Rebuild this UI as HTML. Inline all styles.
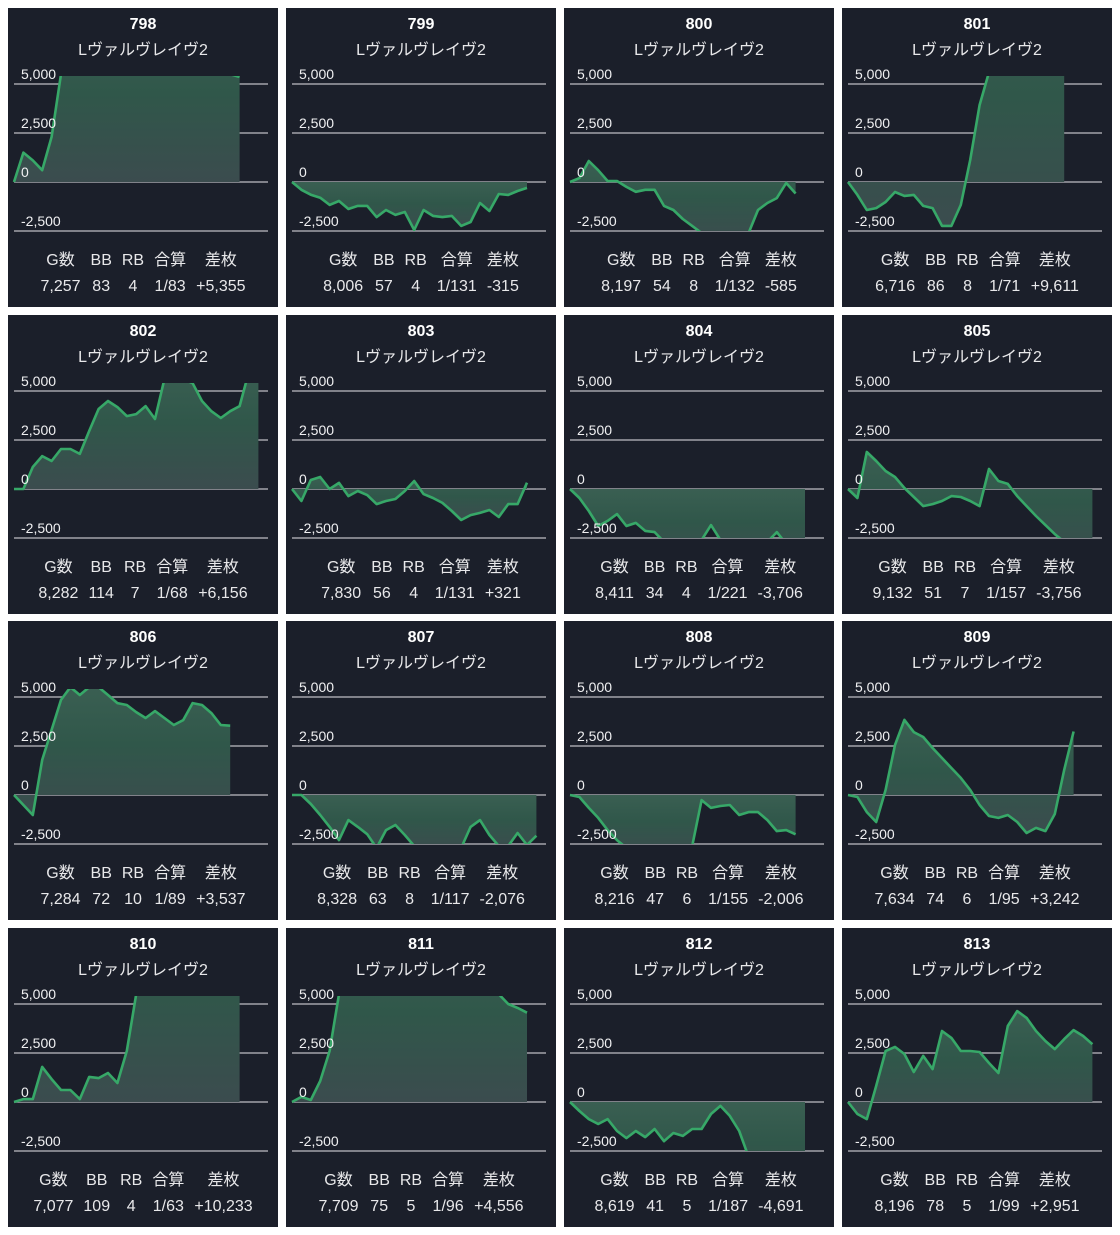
<!DOCTYPE html>
<html><head><meta charset="utf-8">
<style>
html,body{margin:0;padding:0;background:#fff;width:1120px;height:1235px;overflow:hidden}
body{position:relative;font-family:"Liberation Sans","Noto Sans CJK JP",sans-serif}
.panel{position:absolute;width:270px;height:299px;background:#1b1f2a;color:#e8e8ea}
.panel svg{position:absolute;left:0;top:0}
.ttl{position:absolute;top:8px;left:0;width:270px;text-align:center;font-weight:bold;font-size:16px;color:#fff}
.sub{position:absolute;top:28px;left:0;width:270px;text-align:center;font-size:16px;color:#e8e8ea}
.tbl{position:absolute;top:240px;left:0;width:270px;display:flex;justify-content:center}
.col{display:flex;flex-direction:column;align-items:center;padding:0 5px;font-size:16px;line-height:26px;color:#e8e8ea}
</style></head><body>
<script>
const ids=["798","799","800","801","802","803","804","805","806","807","808","809","810","811","812","813"];
const games=["7,257","8,006","8,197","6,716","8,282","7,830","8,411","9,132","7,284","8,328","8,216","7,634","7,077","7,709","8,619","8,196"];
const bbs=["83","57","54","86","114","56","34","51","72","63","47","74","109","75","41","78"];
const rbs=["4","4","8","8","7","4","4","7","10","8","6","6","4","5","5","5"];
const gousan=["1/83","1/131","1/132","1/71","1/68","1/131","1/221","1/157","1/89","1/117","1/155","1/95","1/63","1/96","1/187","1/99"];
const samai=["+5,355","-315","-585","+9,611","+6,156","+321","-3,706","-3,756","+3,537","-2,076","-2,006","+3,242","+10,233","+4,556","-4,691","+2,951"];
const s798=[0,1500,1100,600,2300,5500,6500,7000,7500,8000,8200,8000,7800,7500,7300,7000,6800,6600,6400,6200,6000,5800,5600,5500,5355];
const s799=[0,-400,-650,-800,-1170,-970,-1380,-1220,-1220,-1790,-1430,-1680,-1530,-2450,-1430,-1730,-1790,-1730,-2240,-2040,-1070,-1480,-610,-660,-460,-300];
const s800=[0,200,1070,600,50,50,-250,-500,-400,-400,-1220,-1430,-1890,-2240,-2600,-2900,-3000,-2800,-2700,-2600,-1430,-1070,-820,-50,-585];
const s801=[0,-660,-1430,-1330,-1020,-510,-710,-660,-1220,-1330,-2240,-2240,-1170,1120,3930,5600,7000,8000,8500,9000,9500,9800,9700,9611];
const s802=[0,0,1120,1680,1430,2040,2040,1790,2960,4080,4490,4180,3720,3820,4230,3570,5600,5800,5600,5400,4490,3970,3620,3970,4230,6000,6156];
const s803=[0,-610,460,610,0,310,-360,-100,-310,-770,-610,-510,-100,410,-260,-460,-710,-1120,-1580,-1330,-1220,-1070,-1430,-770,-770,321];
const s804=[0,-460,-1120,-1890,-1630,-1280,-1890,-1730,-2140,-2200,-2700,-3000,-3000,-2800,-2600,-1840,-2600,-2900,-3100,-3000,-2900,-2700,-2200,-2800,-3300,-3706];
const s805=[0,-460,1890,1430,920,610,50,-410,-870,-770,-610,-360,-410,-610,-870,1020,410,260,-360,-870,-1380,-1840,-2300,-2700,-3100,-3500,-3756];
const s806=[0,-510,-1020,1790,3320,4850,5500,5100,5500,5500,5100,4690,4590,4230,3930,4280,3930,3570,3820,4690,4590,4180,3570,3537];
const s807=[0,0,-460,-1020,-1630,-2300,-1280,-1630,-2000,-2700,-1790,-1530,-2040,-2600,-2800,-2800,-2700,-2600,-2700,-1630,-1280,-2040,-2600,-2600,-1940,-2550,-2076];
const s808=[0,-100,-660,-1170,-1790,-2300,-2700,-2900,-3000,-3000,-2900,-2800,-2700,-2600,-260,-660,-560,-510,-1020,-870,-870,-1280,-1840,-1790,-2006];
const s809=[0,-100,-870,-1380,260,2550,3830,3210,2960,2400,1890,1380,870,260,-510,-1070,-1170,-1020,-1380,-1940,-1680,-1840,-970,1280,3242];
const s810=[0,150,150,1790,1170,610,610,150,1280,1220,1480,970,2600,5500,7000,8000,8500,9000,9500,9800,10000,10300,10500,10400,10233];
const s811=[0,260,100,1070,2600,5500,6500,7000,7500,8000,8200,8300,8200,8000,7800,7600,7500,7300,7000,6800,6500,6000,5500,5000,4800,4556];
const s812=[0,-460,-870,-1120,-870,-1480,-1840,-1480,-1790,-1380,-2000,-1580,-1730,-1380,-1380,-610,-200,-710,-1480,-2800,-3400,-3700,-3900,-4300,-4500,-4691];
const s813=[0,-610,-870,820,2600,2810,2450,1530,2350,1680,3620,3270,2600,2600,2550,1990,1480,3880,4640,4290,3620,3110,2700,3210,3670,3370,2951];
const seriesList=[s798,s799,s800,s801,s802,s803,s804,s805,s806,s807,s808,s809,s810,s811,s812,s813];
const yTicks=[5000,2500,0,-2500];
const tickLabels=["5,000","2,500","0","-2,500"];

const NS="http://www.w3.org/2000/svg";
const X0=6, STEP=9.4, ZERO=174, PXPER=49/2500, CLIPTOP=68, CLIPBOT=223;
function xs(i){return X0+i*STEP;}
function ys(v){return ZERO-v*PXPER;}
const colX=[8,286,564,842], rowY=[8,315,621,928];

ids.forEach(function(id,k){
  const p=document.createElement('div');
  p.className='panel';
  p.style.left=colX[k%4]+'px';p.style.top=rowY[Math.floor(k/4)]+'px';
  
  
  const svg=document.createElementNS(NS,'svg');
  svg.setAttribute('width','270');svg.setAttribute('height','299');
  
  
  const defs=document.createElementNS(NS,'defs');
  defs.innerHTML='<clipPath id="c'+id+'"><rect x="0" y="'+CLIPTOP+'" width="270" height="'+(CLIPBOT-CLIPTOP)+'"/></clipPath>'+
   '<linearGradient id="g'+id+'" x1="0" y1="0" x2="0" y2="1"><stop offset="0" stop-color="#3a5f52"/><stop offset="0.45" stop-color="#30574a"/><stop offset="1" stop-color="#3b4c4e"/></linearGradient>';
  svg.appendChild(defs);
  yTicks.forEach(function(t,j){
    const ln=document.createElementNS(NS,'line');
    ln.setAttribute('x1','6');ln.setAttribute('x2','260');
    ln.setAttribute('y1',ys(t));ln.setAttribute('y2',ys(t));
    ln.setAttribute('stroke','#a3a4aa');ln.setAttribute('stroke-width','1.5');
    
    
    svg.appendChild(ln);
  });
  const s=seriesList[k];
  let pts=s.map(function(v,i){return xs(i).toFixed(1)+','+ys(v).toFixed(1);});
  const area=document.createElementNS(NS,'polygon');
  area.setAttribute('points',xs(0)+','+ZERO+' '+pts.join(' ')+' '+xs(s.length-1)+','+ZERO);
  area.setAttribute('fill','url(#g'+id+')');
  area.setAttribute('clip-path','url(#c'+id+')');
  
  
  svg.appendChild(area);
  const line=document.createElementNS(NS,'polyline');
  line.setAttribute('points',pts.join(' '));
  line.setAttribute('fill','none');line.setAttribute('stroke','#37a868');
  line.setAttribute('stroke-width','2.6');line.setAttribute('stroke-linejoin','round');
  line.setAttribute('clip-path','url(#c'+id+')');
  
  
  svg.appendChild(line);
  yTicks.forEach(function(t,j){
    const tx=document.createElementNS(NS,'text');
    tx.setAttribute('x','13');tx.setAttribute('y',ys(t)-5);
    tx.setAttribute('fill','#f0f0f2');tx.setAttribute('font-size','14');
    tx.textContent=tickLabels[j];
    
    
    svg.appendChild(tx);
  });
  p.appendChild(svg);
  const ttl=document.createElement('div');ttl.className='ttl';ttl.textContent=id;
  
  
  p.appendChild(ttl);
  const sub=document.createElement('div');sub.className='sub';sub.textContent='Lヴァルヴレイヴ2';
  
  
  p.appendChild(sub);
  const tbl=document.createElement('div');tbl.className='tbl';
  
  
  const heads=['G数','BB','RB','合算','差枚'], vals=[games[k],bbs[k],rbs[k],gousan[k],samai[k]];
  heads.forEach(function(h,j){
    const c=document.createElement('div');c.className='col';
    c.innerHTML='<span>'+h+'</span><span>'+vals[j]+'</span>';
    
    
    tbl.appendChild(c);
  });
  p.appendChild(tbl);
  document.body.appendChild(p);
});
</script>
</body></html>
